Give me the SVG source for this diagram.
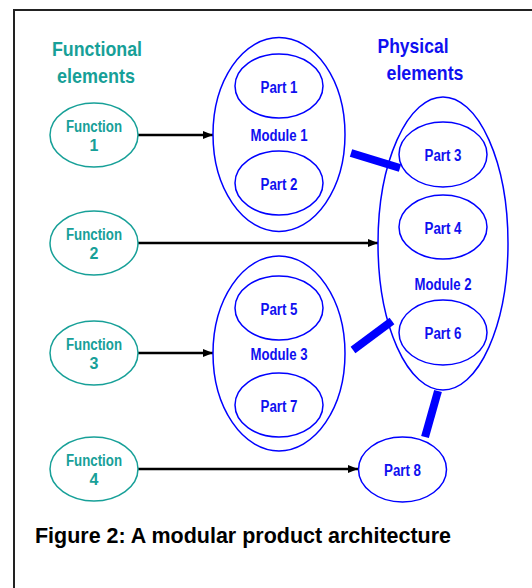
<svg xmlns="http://www.w3.org/2000/svg" width="532" height="588" viewBox="0 0 532 588">
<defs>
<style>
.fn{fill:#fff;stroke:#17a098;stroke-width:1.5}
.ph{fill:none;stroke:#0000ff;stroke-width:1.5}
.tf{font-family:"Liberation Sans",Arial,sans-serif;font-weight:bold;fill:#17a098;text-anchor:middle}
.tp{font-family:"Liberation Sans",Arial,sans-serif;font-weight:bold;fill:#1010f0;text-anchor:middle}
.lbl{font-size:16px}
.arr{stroke:#000;stroke-width:2.5;fill:none;marker-end:url(#ah)}
.bar{stroke:#0000ff;stroke-width:8;stroke-linecap:butt}
</style>
<marker id="ah" viewBox="0 0 10 8" refX="10" refY="4" markerWidth="10" markerHeight="8" markerUnits="userSpaceOnUse" orient="auto">
<path d="M0,0 L10,4 L0,8 z" fill="#000"/>
</marker>
</defs>
<rect x="0" y="0" width="532" height="588" fill="#fff"/>
<rect x="14" y="10" width="600" height="700" fill="none" stroke="#222" stroke-width="2"/>

<g id="headers">
<text class="tf" x="97" y="56" font-size="21" textLength="90" lengthAdjust="spacingAndGlyphs">Functional</text>
<text class="tf" x="96" y="83" font-size="21" textLength="78" lengthAdjust="spacingAndGlyphs">elements</text>
<text class="tp" x="413" y="53" font-size="21" textLength="71" lengthAdjust="spacingAndGlyphs">Physical</text>
<text class="tp" x="425" y="80" font-size="21" textLength="77" lengthAdjust="spacingAndGlyphs">elements</text>
</g>

<g id="connectors">
<line class="arr" x1="138" y1="135" x2="213" y2="135"/>
<line class="arr" x1="138" y1="243" x2="378" y2="243"/>
<line class="arr" x1="138" y1="353" x2="213" y2="353"/>
<line class="arr" x1="138" y1="469" x2="358" y2="469"/>
<line class="bar" x1="351" y1="153" x2="400" y2="168"/>
<line class="bar" x1="353" y1="350" x2="392" y2="321"/>
<line class="bar" x1="438" y1="391" x2="425" y2="437"/>
</g>

<g id="function1">
<ellipse class="fn" cx="94" cy="135" rx="44" ry="32"/>
<text class="tf lbl" x="94" y="132" textLength="56" lengthAdjust="spacingAndGlyphs">Function</text>
<text class="tf lbl" x="94" y="151">1</text>
</g>
<g id="function2">
<ellipse class="fn" cx="94" cy="243" rx="44" ry="32"/>
<text class="tf lbl" x="94" y="240" textLength="56" lengthAdjust="spacingAndGlyphs">Function</text>
<text class="tf lbl" x="94" y="259">2</text>
</g>
<g id="function3">
<ellipse class="fn" cx="94" cy="353" rx="44" ry="32"/>
<text class="tf lbl" x="94" y="350" textLength="56" lengthAdjust="spacingAndGlyphs">Function</text>
<text class="tf lbl" x="94" y="369">3</text>
</g>
<g id="function4">
<ellipse class="fn" cx="94" cy="469" rx="44" ry="32"/>
<text class="tf lbl" x="94" y="466" textLength="56" lengthAdjust="spacingAndGlyphs">Function</text>
<text class="tf lbl" x="94" y="485">4</text>
</g>

<g id="module1">
<ellipse class="ph" cx="279" cy="134.5" rx="66" ry="97"/>
<text class="tp lbl" x="279" y="141" textLength="57" lengthAdjust="spacingAndGlyphs">Module 1</text>
</g>
<g id="part1">
<ellipse class="ph" cx="279" cy="86" rx="44" ry="32"/>
<text class="tp lbl" x="279" y="93" textLength="37" lengthAdjust="spacingAndGlyphs">Part 1</text>
</g>
<g id="part2">
<ellipse class="ph" cx="279" cy="183" rx="44" ry="32"/>
<text class="tp lbl" x="279" y="190" textLength="37" lengthAdjust="spacingAndGlyphs">Part 2</text>
</g>

<g id="module2">
<ellipse class="ph" cx="443" cy="243.5" rx="65" ry="146.5"/>
<text class="tp lbl" x="443" y="290" textLength="57" lengthAdjust="spacingAndGlyphs">Module 2</text>
</g>
<g id="part3">
<ellipse class="ph" cx="443" cy="154.5" rx="44" ry="32.5"/>
<text class="tp lbl" x="443" y="161" textLength="37" lengthAdjust="spacingAndGlyphs">Part 3</text>
</g>
<g id="part4">
<ellipse class="ph" cx="443" cy="227" rx="44" ry="32"/>
<text class="tp lbl" x="443" y="234" textLength="37" lengthAdjust="spacingAndGlyphs">Part 4</text>
</g>
<g id="part6">
<ellipse class="ph" cx="443" cy="332.5" rx="44" ry="32.5"/>
<text class="tp lbl" x="443" y="339" textLength="37" lengthAdjust="spacingAndGlyphs">Part 6</text>
</g>

<g id="module3">
<ellipse class="ph" cx="279" cy="353.5" rx="66" ry="97.5"/>
<text class="tp lbl" x="279" y="360" textLength="57" lengthAdjust="spacingAndGlyphs">Module 3</text>
</g>
<g id="part5">
<ellipse class="ph" cx="279" cy="308" rx="44" ry="32"/>
<text class="tp lbl" x="279" y="315" textLength="37" lengthAdjust="spacingAndGlyphs">Part 5</text>
</g>
<g id="part7">
<ellipse class="ph" cx="279" cy="405" rx="44" ry="32"/>
<text class="tp lbl" x="279" y="412" textLength="37" lengthAdjust="spacingAndGlyphs">Part 7</text>
</g>

<g id="part8">
<ellipse class="ph" cx="402.5" cy="469.5" rx="44" ry="32.5"/>
<text class="tp lbl" x="402.5" y="476" textLength="37" lengthAdjust="spacingAndGlyphs">Part 8</text>
</g>

<text x="35" y="543" font-family="'Liberation Sans',Arial,sans-serif" font-weight="bold" font-size="22" fill="#000" textLength="416" lengthAdjust="spacingAndGlyphs">Figure 2: A modular product architecture</text>
</svg>
